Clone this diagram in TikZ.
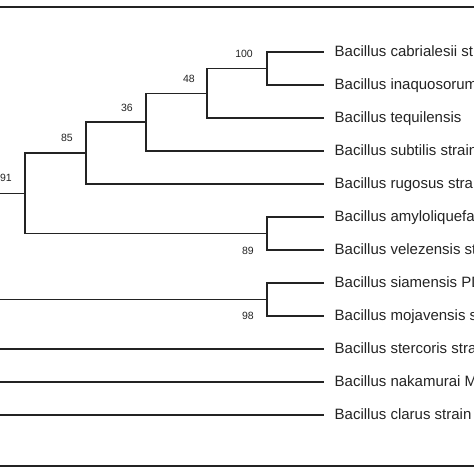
\documentclass[tikz,border=0pt]{standalone}
\usepackage{fontspec}
\setmainfont{Liberation Sans}
\definecolor{ink}{RGB}{35,35,35}
\begin{document}
\begin{tikzpicture}[x=1pt,y=-1pt,
  branch/.style={draw=ink,line width=1.3pt},
  rule/.style={draw=ink,line width=2pt},
  leaf/.style={anchor=west,inner ysep=0pt,inner xsep=0pt,text height=11pt,text depth=3pt,
    font=\fontsize{15}{17}\selectfont,text=ink},
  boot/.style={inner sep=0pt,font=\fontsize{10.5}{12}\selectfont,text=ink}]
\useasboundingbox (0,0) rectangle (474,474);
\clip (0,0) rectangle (474,474);
% leaves (line end at x=324, text from x=334)
\foreach \n/\y/\t in {1/52/Bacillus cabrialesii strain,
  2/85/Bacillus inaquosorum strain,
  3/118/Bacillus tequilensis,
  4/151/Bacillus subtilis strain,
  5/184/Bacillus rugosus strain,
  6/217/Bacillus amyloliquefaciens,
  7/250/Bacillus velezensis strain,
  8/283/Bacillus siamensis PD,
  9/316/Bacillus mojavensis strain,
  10/349/Bacillus stercoris strain,
  11/382/Bacillus nakamurai MS,
  12/415/Bacillus clarus strain}
  \node[leaf] (t\n) at (324,\y) {\hspace*{10.5pt}\t};
% internal nodes
\coordinate (n100) at (267,68.5);
\coordinate (n48) at (207,93.25);
\coordinate (n36) at (146,122.1);
\coordinate (n85) at (86,153);
\coordinate (n89) at (267,233.5);
\coordinate (n91) at (25,193.3);
\coordinate (n98) at (267,299.5);
\coordinate (r91) at (-5,193.3);
\coordinate (r98) at (-5,299.5);
\coordinate (r10) at (-5,349);
\coordinate (r11) at (-5,382);
\coordinate (r12) at (-5,415);
% branches
\draw[branch] (n100) |- (t1.west);
\draw[branch] (n100) |- (t2.west);
\draw[branch] (n48) |- (n100);
\draw[branch] (n48) |- (t3.west);
\draw[branch] (n36) |- (n48);
\draw[branch] (n36) |- (t4.west);
\draw[branch] (n85) |- (n36);
\draw[branch] (n85) |- (t5.west);
\draw[branch] (n89) |- (t6.west);
\draw[branch] (n89) |- (t7.west);
\draw[branch] (n91) |- (n85);
\draw[branch] (n91) |- (n89);
\draw[branch] (r91) -- (n91);
\draw[branch] (n98) |- (t8.west);
\draw[branch] (n98) |- (t9.west);
\draw[branch] (r98) -- (n98);
\draw[branch] (r10) -- (t10.west);
\draw[branch] (r11) -- (t11.west);
\draw[branch] (r12) -- (t12.west);
% bootstrap values
\node[boot,anchor=south east] (b100) at (253,58) {100};
\node[boot,anchor=south east] (b48) at (195,83) {48};
\node[boot,anchor=south east] (b36) at (133,112) {36};
\node[boot,anchor=south east] (b85) at (73,142) {85};
\node[boot,anchor=south east] (b91) at (12,182) {91};
\node[boot,anchor=east] (b89) at (254,251) {89};
\node[boot,anchor=east] (b98) at (254,316) {98};
% frame rules
\coordinate (tl) at (-2,6.5);
\coordinate (tr) at (476,6.5);
\coordinate (bl) at (-2,465.5);
\coordinate (br) at (476,465.5);
\draw[rule] (tl) -- (tr);
\draw[rule] (bl) -- (br);
\end{tikzpicture}
\end{document}
